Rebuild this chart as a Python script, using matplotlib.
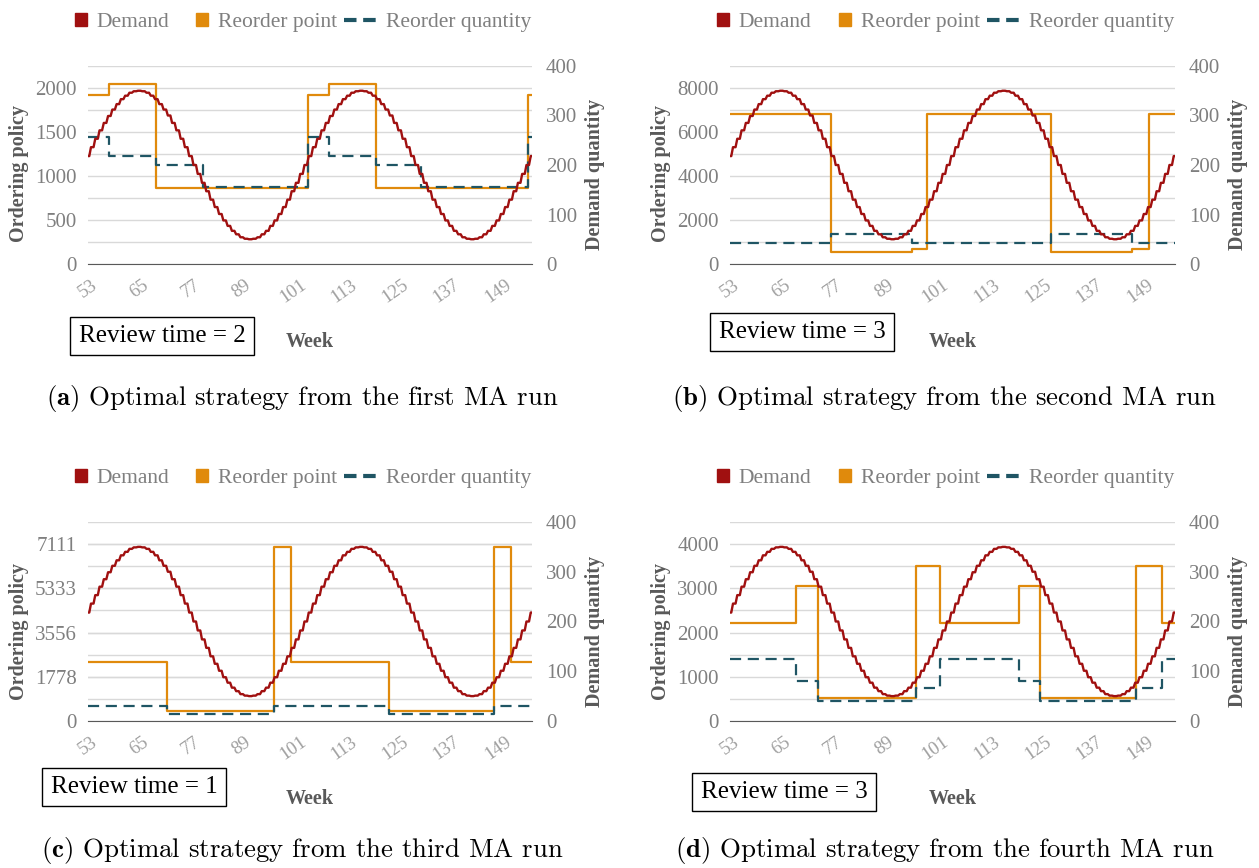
import matplotlib
matplotlib.use("Agg")
import numpy as np
import matplotlib.pyplot as plt
from matplotlib.lines import Line2D
from matplotlib.patches import Rectangle
from matplotlib.legend_handler import HandlerPatch

plt.rcParams["font.family"] = ["Liberation Serif", "DejaVu Serif"]
plt.rcParams["mathtext.fontset"] = "cm"

W, H = 1259, 868

# ---- data ----
weeks = list(range(53, 158))
demand = [218, 236, 253, 270, 285, 299, 312, 323, 333, 340, 346, 349, 350,
          349, 346, 340, 333, 323, 312, 300, 285, 270, 253, 236, 218, 200,
          182, 164, 147, 130, 115, 101, 88, 77, 67, 60, 54, 51, 50, 51,
          54, 60, 67, 77, 88, 101, 115, 130, 147, 164, 182, 200,
          218, 236, 253, 270, 285, 299, 312, 323, 333, 340, 346, 349, 350,
          349, 346, 340, 333, 323, 312, 300, 285, 270, 253, 236, 218, 200,
          182, 164, 147, 130, 115, 101, 88, 77, 67, 60, 54, 51, 50, 51,
          54, 60, 67, 77, 88, 101, 115, 130, 147, 164, 182, 200, 218]
week_ticks = [53, 65, 77, 89, 101, 113, 125, 137, 149]
demand_ticks = [0, 100, 200, 300, 400]

# (a) first MA run, review time 2
a_rp_weeks = [53, 58, 69, 104.5, 109.5, 120.5, 156, 157]
a_rp_vals = [1925, 2045, 865, 1925, 2045, 865, 1925, 1925]
a_rq_weeks = [53, 58, 69, 80, 104.5, 109.5, 120.5, 131, 156, 157]
a_rq_vals = [1440, 1225, 1130, 880, 1440, 1225, 1130, 880, 1440, 1440]
a_ticks = [0, 500, 1000, 1500, 2000]
a_ticklabels = ["0", "500", "1000", "1500", "2000"]

# (b) second MA run, review time 3
b_rp_weeks = [53, 76.5, 95.5, 99, 128, 147, 151, 157]
b_rp_vals = [6800, 545, 660, 6800, 545, 660, 6800, 6800]
b_rq_weeks = [53, 76.5, 95.5, 128, 147, 157]
b_rq_vals = [945, 1375, 945, 1375, 945, 945]
b_ticks = [0, 2000, 4000, 6000, 8000]
b_ticklabels = ["0", "2000", "4000", "6000", "8000"]

# (c) third MA run, review time 1
c_rp_weeks = [53, 71.5, 96.5, 100.5, 123.5, 148, 152, 157]
c_rp_vals = [2390, 400, 6980, 2390, 400, 6980, 2390, 2390]
c_rq_weeks = [53, 71.5, 96.5, 123.5, 148, 157]
c_rq_vals = [617, 282, 617, 282, 617, 617]
c_ticks = [0, 1778, 3556, 5333, 7111]
c_ticklabels = ["0", "1778", "3556", "5333", "7111"]

# (d) fourth MA run, review time 3
d_rp_weeks = [53, 68.5, 73.5, 96.5, 102, 120.5, 125.5, 148, 154, 157]
d_rp_vals = [2225, 3055, 520, 3510, 2225, 3055, 520, 3510, 2225, 2225]
d_rq_weeks = [53, 68.5, 73.5, 96.5, 102, 120.5, 125.5, 148, 154, 157]
d_rq_vals = [1395, 912, 460, 747, 1395, 912, 460, 747, 1395, 1395]
d_ticks = [0, 1000, 2000, 3000, 4000]
d_ticklabels = ["0", "1000", "2000", "3000", "4000"]

review_times = [2, 3, 1, 3]
captions = ["first", "second", "third", "fourth"]

C_DEM = "#A01010"
C_RP = "#E08A0C"
C_RQ = "#1F5564"
C_TXT = "#7F7F7F"
C_LAB = "#595959"

fig = plt.figure(figsize=(W / 100, H / 100), dpi=100)


def fx(x):
    return x / W


def fy(y):
    return 1 - y / H


def square(legend, orig_handle, xdescent, ydescent, width, height, fontsize):
    s = 0.56 * fontsize
    return Rectangle((width - s - xdescent, (height - s) / 2 - ydescent), s, s)


# weekly demand drawn as a soft staircase: flat part around each week
dem_x = np.column_stack([np.array(weeks) - 0.3, np.array(weeks) + 0.3]).ravel()
dem_y = np.repeat(demand, 2)


def panel(box, ymax, ngrid, ticks, ticklabels, rp_w, rp_v, rq_w, rq_v,
          letter, which, review, ox, oy, cap_y):
    x0, x1, y0, y1 = box
    ax = fig.add_axes([fx(x0), fy(y1), (x1 - x0) / W, (y1 - y0) / H])
    ax2 = ax.twinx()

    ax.step(rp_w, rp_v, where="post", color=C_RP, lw=1.6)
    ax.step(rq_w, rq_v, where="post", color=C_RQ, lw=1.6,
            linestyle=(0, (5, 3)))
    ax2.plot(dem_x, dem_y, color=C_DEM, lw=1.7, solid_joinstyle="round")

    ax.set_xlim(53, 157)
    ax.set_ylim(0, ymax)
    ax2.set_ylim(0, 400)
    ax.set_yticks(ticks)
    ax.set_yticklabels(ticklabels)
    ax.set_yticks(np.linspace(0, ymax, ngrid + 1), minor=True)
    ax.grid(True, which="both", axis="y", color="#D9D9D9", lw=1)
    ax.set_axisbelow(True)
    ax.set_xticks(week_ticks)
    ax.set_xticklabels([str(w) for w in week_ticks], rotation=35,
                       ha="center")
    ax2.set_yticks(demand_ticks)

    for a in (ax, ax2):
        for s in a.spines.values():
            s.set_visible(False)
    ax.spines["bottom"].set_visible(True)
    ax.spines["bottom"].set_color(C_LAB)
    ax.tick_params(axis="y", which="both", length=0, pad=8,
                   labelsize=15, labelcolor=C_TXT)
    ax.tick_params(axis="x", length=0, pad=9, labelsize=13.5,
                   labelcolor="#A0A0A0")
    ax2.tick_params(axis="y", length=0, pad=10, labelsize=15,
                    labelcolor=C_TXT)

    cx = (x0 + x1) / 2
    fig.text(fx(x0 - 69), fy(y1 - 90), "Ordering policy", rotation=90,
             ha="center", va="center", fontsize=14.5, fontweight="bold",
             color=C_LAB)
    fig.text(fx(x1 + 63), fy(y1 - 90), "Demand quantity", rotation=90,
             ha="center", va="center", fontsize=14.5, fontweight="bold",
             color=C_LAB)
    fig.text(fx(cx), fy(y1 + 78), "Week", ha="center", va="center",
             fontsize=14.5, fontweight="bold", color=C_LAB)

    handles = [Rectangle((0, 0), 1, 1, color=C_DEM),
               Rectangle((0, 0), 1, 1, color=C_RP),
               Line2D([], [], color=C_RQ, lw=3, linestyle=(0, (3, 1.6)))]
    fig.legend(handles, ["Demand", "Reorder point", "Reorder quantity"],
               loc="center", bbox_to_anchor=(fx(cx - 17), fy(y0 - 44)),
               ncol=3, frameon=False, fontsize=15.5, labelcolor=C_TXT,
               handlelength=1.5, handletextpad=0.45, columnspacing=0.33,
               handler_map={Rectangle: HandlerPatch(patch_func=square)})

    fig.text(fx(ox), fy(oy), f"Review time = {review}", ha="center",
             va="center", fontsize=18,
             bbox=dict(boxstyle="square,pad=0.33", fc="white", ec="black",
                       lw=1))

    fig.text(fx(cx - 8), fy(cap_y),
             r"$\mathbf{(" + letter + r")}$ Optimal strategy from the "
             + which + " MA run", ha="center", va="baseline", fontsize=19.3,
             family="cmr10")


panel((88, 532, 66, 264), 2250, 9, a_ticks, a_ticklabels,
      a_rp_weeks, a_rp_vals, a_rq_weeks, a_rq_vals,
      "a", captions[0], review_times[0], 162, 336, 405)
panel((730, 1175, 66, 264), 9000, 9, b_ticks, b_ticklabels,
      b_rp_weeks, b_rp_vals, b_rq_weeks, b_rq_vals,
      "b", captions[1], review_times[1], 802, 332, 405)
panel((88, 532, 522, 721), 8000, 9, c_ticks, c_ticklabels,
      c_rp_weeks, c_rp_vals, c_rq_weeks, c_rq_vals,
      "c", captions[2], review_times[2], 134, 787, 857)
panel((730, 1175, 522, 721), 4500, 9, d_ticks, d_ticklabels,
      d_rp_weeks, d_rp_vals, d_rq_weeks, d_rq_vals,
      "d", captions[3], review_times[3], 784, 792, 857)

fig.savefig("out.png", dpi=100)
